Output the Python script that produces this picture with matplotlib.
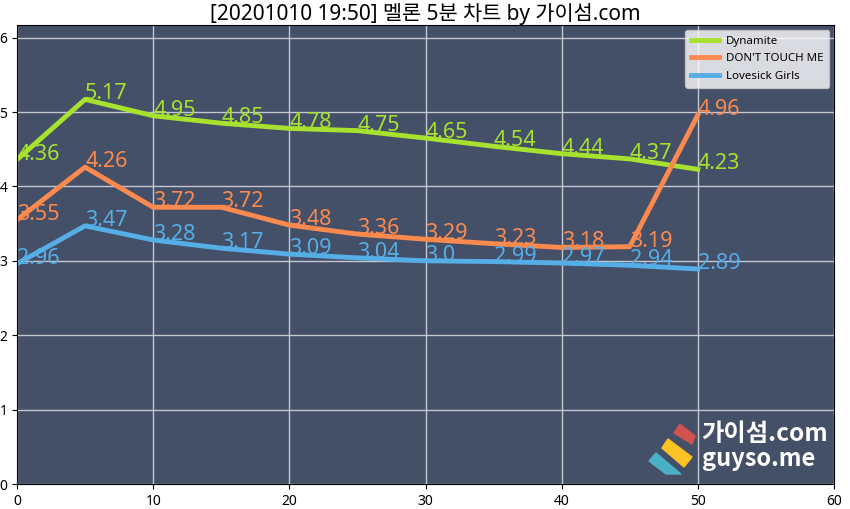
import matplotlib
matplotlib.use("Agg")
import matplotlib.pyplot as plt
from matplotlib.patches import Polygon

plt.rcParams['font.family'] = ['Noto Sans', 'Noto Sans CJK KR', 'DejaVu Sans']

minutes = [0, 5, 10, 15, 20, 25, 30, 35, 40, 45, 50]
dynamite = [4.36, 5.17, 4.95, 4.85, 4.78, 4.75, 4.65, 4.54, 4.44, 4.37, 4.23]
dont_touch = [3.55, 4.26, 3.72, 3.72, 3.48, 3.36, 3.29, 3.23, 3.18, 3.19, 4.96]
lovesick = [2.96, 3.47, 3.28, 3.17, 3.09, 3.04, 3.0, 2.99, 2.97, 2.94, 2.89]

series = [("Dynamite", dynamite, "#a6e22e"),
          ("DON'T TOUCH ME", dont_touch, "#fc8a4f"),
          ("Lovesick Girls", lovesick, "#56aee6")]

W, H = 850, 509
fig = plt.figure(figsize=(W / 100, H / 100), dpi=100)
ax = fig.add_axes([17 / W, 1 - 484 / H, (834 - 17) / W, (484 - 25) / H])
ax.set_facecolor("#444f68")
ax.set_axisbelow(True)
ax.grid(color="#c4c8d0", linewidth=1)

for name, vals, col in series:
    ax.plot(minutes, vals, color=col, linewidth=3.5, label=name)
    for x, y in zip(minutes, vals):
        ax.text(x, y, str(y), color=col, fontsize=15.5, va="baseline", ha="left",
                clip_on=False)

ax.set_xlim(0, 60)
ax.set_ylim(0, 6.17)
ax.tick_params(labelsize=10)
ax.set_title("[20201010 19:50] 멜론 5분 차트 by 가이섬.com", fontsize=15, pad=3)
ax.legend(loc="upper right", fontsize=8.3, handlelength=2.4, handletextpad=0.6,
          labelspacing=0.55, borderaxespad=0.45, borderpad=0.5)

# logo, positioned in image pixels
def px(points):
    return [(x / W, 1 - y / H) for x, y in points]

logo = [([(680, 424), (695, 436), (692, 444), (674, 433)], "#d1534f"),
        ([(668, 439), (692, 457), (684, 467), (662, 448)], "#fdc324"),
        ([(656, 453), (681, 474), (666, 474), (649, 461)], "#4bb0c8")]
for pts, col in logo:
    fig.add_artist(Polygon(px(pts), closed=True, color=col, transform=fig.transFigure))
fig.text(701 / W, 1 - 434 / H, "가이섬.com", color="white", fontsize=17.5,
         family="Noto Sans CJK KR", fontweight="bold", va="center", ha="left")
fig.text(702 / W, 1 - 459 / H, "guyso.me", color="white", fontsize=17,
         family="Noto Sans CJK KR", fontweight="bold", va="center", ha="left")

fig.savefig("out.png", dpi=100)
